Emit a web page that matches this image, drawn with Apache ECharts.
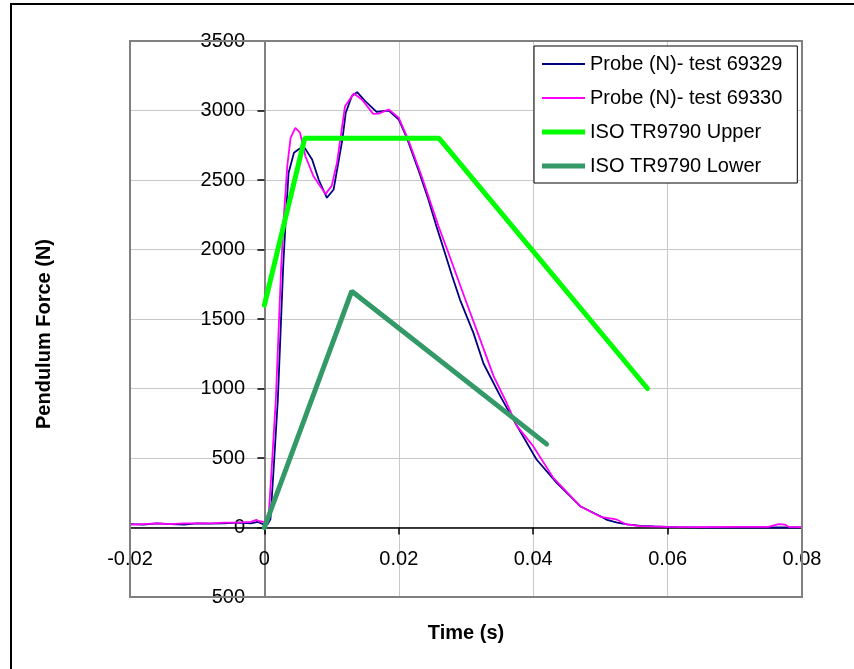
<!DOCTYPE html>
<html>
<head>
<meta charset="utf-8">
<script src="https://cdn.jsdelivr.net/npm/echarts@6/dist/echarts.min.js"></script>
<style>
  html, body { margin: 0; padding: 0; background: #fff; }
  #chart { width: 854px; height: 669px; }
</style>
</head>
<body>
<div id="chart"></div>
<script>
// probe test 69329 (navy)
const time69329 = [-0.02, -0.018, -0.016, -0.014, -0.012, -0.01, -0.008, -0.006, -0.004, -0.002, -0.001, 0,
  0.0005, 0.0009, 0.0014, 0.002, 0.0024, 0.0028, 0.0032, 0.0036, 0.0044, 0.0052, 0.006, 0.0071, 0.0081,
  0.0093, 0.0103, 0.011, 0.0116, 0.0121, 0.013, 0.0138, 0.015, 0.0167, 0.0185, 0.02, 0.0212, 0.0229,
  0.0244, 0.0256, 0.0267, 0.0279, 0.0291, 0.0311, 0.0326, 0.0351, 0.0376, 0.0405, 0.0435, 0.047, 0.05, 0.051,
  0.0525, 0.054, 0.056, 0.058, 0.06, 0.0615, 0.065, 0.07, 0.075, 0.08];
const force69329 = [25, 20, 30, 25, 20, 30, 28, 30, 35, 30, 40, 20,
  25, 60, 441, 921, 1400, 1880, 2240, 2552, 2696, 2725, 2731, 2647, 2500,
  2372, 2432, 2624, 2791, 2983, 3103, 3132, 3067, 2990, 3000, 2935, 2803, 2575,
  2360, 2168, 2000, 1815, 1640, 1400, 1180, 945, 729, 489, 321, 153, 81, 55,
  35, 22, 12, 8, 5, 3, 0, 0, 0, 0];

// probe test 69330 (magenta)
const time69330 = [-0.02, -0.018, -0.016, -0.014, -0.012, -0.01, -0.008, -0.006, -0.004, -0.002, -0.0012, -0.0008, 0,
  0.0006, 0.0011, 0.0017, 0.0021, 0.0025, 0.0029, 0.0034, 0.0039, 0.0046, 0.0053, 0.0061, 0.0073,
  0.0091, 0.01, 0.0108, 0.0115, 0.012, 0.0133, 0.0145, 0.0162, 0.017, 0.0185, 0.02, 0.0214, 0.0234,
  0.0259, 0.0272, 0.0299, 0.0321, 0.0341, 0.0358, 0.0376, 0.04, 0.043, 0.047, 0.05, 0.0524, 0.0539,
  0.0559, 0.06, 0.065, 0.07, 0.075, 0.0765, 0.0775, 0.078, 0.08];
const force69330 = [20, 25, 30, 25, 30, 30, 30, 35, 35, 40, 55, 45, 40,
  58, 441, 921, 1400, 1880, 2240, 2600, 2803, 2875, 2840, 2671, 2527,
  2400, 2456, 2624, 2863, 3031, 3122, 3079, 2976, 2978, 3007, 2947, 2791, 2527,
  2168, 2000, 1640, 1353, 1089, 921, 729, 585, 357, 153, 77, 58, 22,
  10, 5, 3, 5, 5, 25, 20, 5, 3];

// ISO TR9790 corridor
const upperTime = [0, 0.006, 0.026, 0.057];
const upperForce = [1600, 2800, 2800, 1000];
const lowerTime = [0, 0.013, 0.042];
const lowerForce = [0, 1700, 600];

const xTicks = [-0.02, 0, 0.02, 0.04, 0.06, 0.08];

function pairs(xs, ys) {
  return xs.map((x, i) => [x, ys[i]]);
}

// legend swatch: a bar of given thickness inside a 43x14 box (tiny corner dots keep the box size)
function swatch(h) {
  const y0 = (14 - h) / 2;
  return 'path://M0,0h0.05v0.05h-0.05z M0,' + y0 + 'h43v' + h + 'h-43z M42.95,13.95h0.05v0.05h-0.05z';
}

const chart = echarts.init(document.getElementById('chart'));
const font = 'Liberation Sans, Arial, sans-serif';

chart.setOption({
  animation: false,
  textStyle: { fontFamily: font },
  grid: {
    left: 130,
    top: 41,
    right: 52,
    bottom: 72,
    outerBoundsMode: 'none'
  },
  legend: {
    orient: 'vertical',
    left: 534,
    top: 46,
    padding: [8, 15, 7, 8],
    itemGap: 14,
    itemWidth: 43,
    itemHeight: 14,
    backgroundColor: '#fff',
    borderColor: '#000',
    borderWidth: 1,
    textStyle: { fontSize: 20, color: '#000', fontFamily: font, lineHeight: 20 },
    data: [
      { name: 'Probe (N)- test 69329', icon: swatch(2) },
      { name: 'Probe (N)- test 69330', icon: swatch(2) },
      { name: 'ISO TR9790 Upper', icon: swatch(5) },
      { name: 'ISO TR9790 Lower', icon: swatch(5) }
    ]
  },
  xAxis: {
    type: 'value',
    min: xTicks[0],
    max: xTicks[xTicks.length - 1],
    interval: 0.02,
    name: 'Time (s)',
    nameLocation: 'middle',
    nameGap: 26,
    nameTextStyle: { fontSize: 20, fontWeight: 'bold', color: '#000' },
    axisLine: { onZero: true, lineStyle: { color: '#000', width: 1.5 } },
    axisTick: { length: 7, lineStyle: { color: '#000', width: 1.5 } },
    axisLabel: {
      fontSize: 20, color: '#000', margin: -48,
      formatter: v => String(+v.toFixed(2))
    },
    splitLine: { show: true, lineStyle: { color: '#c8c8c8', width: 1 } }
  },
  yAxis: {
    type: 'value',
    min: -500,
    max: 3500,
    interval: 500,
    name: 'Pendulum Force (N)',
    nameLocation: 'middle',
    nameGap: 76,
    nameTextStyle: { fontSize: 20, fontWeight: 'bold', color: '#000', padding: [0, 30, 0, 0] },
    axisLine: { onZero: true, lineStyle: { color: '#808080', width: 2 } },
    axisTick: { length: 7, lineStyle: { color: '#000', width: 1.5 } },
    axisLabel: { fontSize: 20, color: '#000', margin: -115, formatter: v => String(v) },
    splitLine: { show: true, lineStyle: { color: '#c8c8c8', width: 1 } }
  },
  graphic: [
    {
      type: 'rect',
      z: 100,
      silent: true,
      shape: { x: 130, y: 41, width: 672, height: 556 },
      style: { fill: 'none', stroke: '#808080', lineWidth: 2 }
    },
    {
      type: 'rect',
      z: 100,
      silent: true,
      shape: { x: 11, y: 4, width: 900, height: 700 },
      style: { fill: 'none', stroke: '#000', lineWidth: 2 }
    }
  ],
  series: [
    {
      name: 'Probe (N)- test 69329',
      type: 'line',
      symbol: 'none',
      color: '#000080',
      lineStyle: { width: 1.8 },
      data: pairs(time69329, force69329)
    },
    {
      name: 'Probe (N)- test 69330',
      type: 'line',
      symbol: 'none',
      color: '#ff00ff',
      lineStyle: { width: 1.8 },
      data: pairs(time69330, force69330)
    },
    {
      name: 'ISO TR9790 Upper',
      type: 'line',
      symbol: 'none',
      color: '#00ff00',
      lineStyle: { width: 5, cap: 'round' },
      data: pairs(upperTime, upperForce)
    },
    {
      name: 'ISO TR9790 Lower',
      type: 'line',
      symbol: 'none',
      color: '#339966',
      lineStyle: { width: 5, cap: 'round' },
      data: pairs(lowerTime, lowerForce)
    }
  ]
});
</script>
</body>
</html>
